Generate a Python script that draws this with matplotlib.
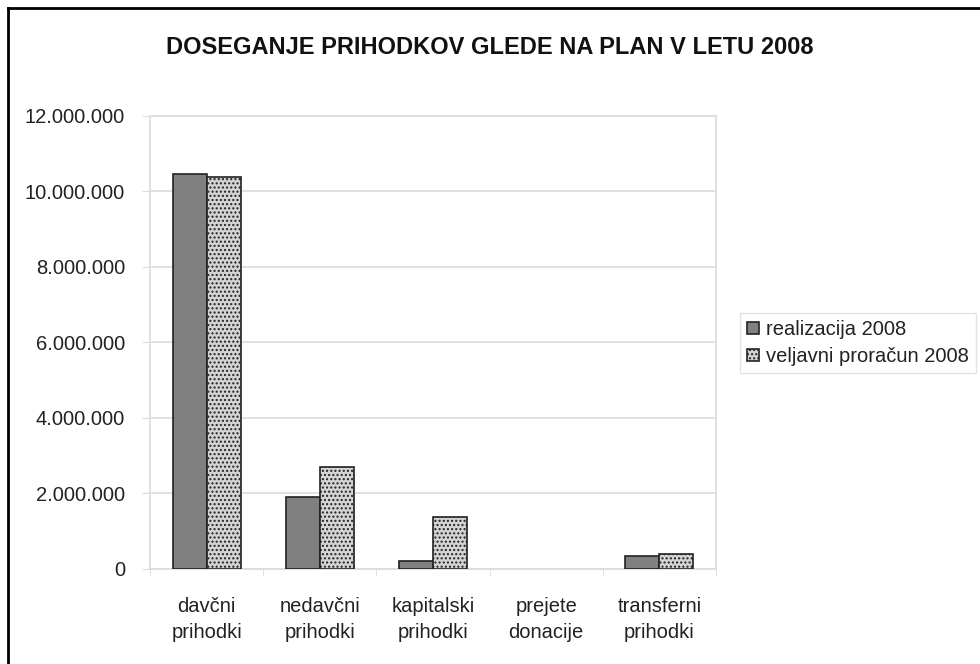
import matplotlib
matplotlib.use("Agg")
import matplotlib.pyplot as plt
import numpy as np
from matplotlib.ticker import FuncFormatter, FixedLocator
from matplotlib.lines import Line2D

plt.rcParams['font.family'] = ['Liberation Sans', 'DejaVu Sans']
plt.rcParams['hatch.color'] = '#8a8a8a'
plt.rcParams['hatch.linewidth'] = 1.0

categories = ["davčni\nprihodki", "nedavčni\nprihodki", "kapitalski\nprihodki",
              "prejete\ndonacije", "transferni\nprihodki"]
realizacija = [10440000, 1910000, 200000, 0, 350000]
veljavni = [10380000, 2710000, 1370000, 0, 400000]
series_names = ["realizacija 2008", "veljavni proračun 2008"]
title = "DOSEGANJE PRIHODKOV GLEDE NA PLAN V LETU 2008"
yticks = [0, 2000000, 4000000, 6000000, 8000000, 10000000, 12000000]

fig = plt.figure(figsize=(9.8, 6.64), dpi=100)
ax = fig.add_axes([150/980, 1-569/664, (716-150)/980, (569-115.5)/664])

x = np.arange(len(categories))
w = 0.30
grid_c = '#dcdcdc'
b1 = ax.bar(x - w/2, realizacija, w, color='#808080', edgecolor='#222222', linewidth=1.2,
            label=series_names[0], zorder=3)
b2 = ax.bar(x + w/2, veljavni, w, color='#d4d4d4', edgecolor='#222222', linewidth=1.2,
            hatch='....', label=series_names[1], zorder=3)
for bars, vals in ((b1, realizacija), (b2, veljavni)):
    for r, v in zip(bars, vals):
        if v == 0:
            r.set_visible(False)

ax.set_xlim(-0.5, len(categories) - 0.5)
ax.set_ylim(0, 12000000)
ax.yaxis.set_major_locator(FixedLocator(yticks))
ax.yaxis.set_major_formatter(FuncFormatter(lambda v, p: f"{int(v):,}".replace(",", ".")))
ax.set_xticks(x)
ax.set_xticklabels(categories, fontsize=14.5, color='#222222', linespacing=1.45)
ax.xaxis.set_minor_locator(FixedLocator(np.arange(-0.5, len(categories), 1.0)))
ax.tick_params(axis='x', which='major', length=0, pad=20)
ax.tick_params(axis='x', which='minor', length=5, color=grid_c, direction='out')
ax.tick_params(axis='y', length=6, color=grid_c, labelsize=14.5, labelcolor='#222222', pad=12)
ax.grid(axis='y', color=grid_c, linewidth=1.2, zorder=0)
for s in ax.spines.values():
    s.set_color(grid_c)
    s.set_linewidth(1.2)

fig.text(490/980, 1-47/664, title, ha='center', va='center', fontsize=17,
         fontweight='bold', color='#111111')

leg = fig.legend(handles=[b1, b2], labels=series_names, loc='upper left',
                 bbox_to_anchor=(730/980, 1-303/664), fontsize=14.5, frameon=True,
                 fancybox=False, edgecolor='#dddddd', handlelength=0.6, handleheight=0.6,
                 handletextpad=0.35, borderpad=0.35, labelspacing=0.4)
for t in leg.get_texts():
    t.set_color('#222222')

# outer frame
fig.add_artist(Line2D([8/980, 8/980], [0, 1-8/664], transform=fig.transFigure,
                      color='black', linewidth=2))
fig.add_artist(Line2D([8/980, 1], [1-8/664, 1-8/664], transform=fig.transFigure,
                      color='black', linewidth=2))

fig.savefig("out.png", dpi=100, facecolor='white')
